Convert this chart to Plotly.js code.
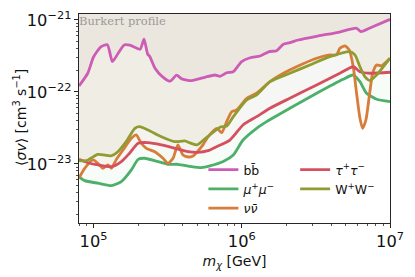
<!DOCTYPE html>
<html>
<head>
<meta charset="utf-8">
<script src="https://cdn.plot.ly/plotly-3.0.1.min.js"></script>
<style>html,body{margin:0;padding:0;background:#fff;}#chart{width:415px;height:277px;}</style>
</head>
<body>
<div id="chart"></div>
<script>
// ---- data ----
const bb_m = [7.98e4, 9.14e4, 1.0e5, 1.12e5, 1.24e5, 1.34e5, 1.47e5, 1.61e5, 1.76e5, 2.06e5, 2.19e5, 2.32e5, 2.40e5, 2.60e5, 2.91e5, 3.28e5, 3.64e5, 3.93e5, 4.59e5, 5.65e5, 6.59e5, 7.13e5, 7.91e5, 8.77e5, 9.98e5, 1.14e6, 1.33e6, 1.53e6, 1.72e6, 1.91e6, 2.11e6, 2.40e6, 3.28e6, 4.48e6, 5.95e6, 6.37e6, 7.52e6, 1.0e7];
const bb_sv = [1.21e-22, 1.82e-22, 3.06e-22, 4.22e-22, 4.54e-22, 2.64e-22, 3.48e-22, 4.50e-22, 4.46e-22, 3.92e-22, 5.40e-22, 3.34e-22, 3.09e-22, 2.13e-22, 1.63e-22, 1.41e-22, 1.71e-22, 1.52e-22, 1.44e-22, 1.60e-22, 1.72e-22, 1.65e-22, 1.85e-22, 1.91e-22, 2.64e-22, 2.99e-22, 3.16e-22, 3.63e-22, 3.75e-22, 4.60e-22, 4.84e-22, 5.27e-22, 6.00e-22, 6.75e-22, 7.67e-22, 6.88e-22, 7.93e-22, 1.02e-21];

const mu_m = [7.98e4, 8.72e4, 1.07e5, 1.32e5, 1.54e5, 1.80e5, 2.00e5, 2.21e5, 2.72e5, 3.18e5, 3.71e5, 4.57e5, 5.33e5, 6.10e5, 7.50e5, 8.77e5, 1.02e6, 1.26e6, 1.47e6, 2.11e6, 3.20e6, 4.83e6, 5.65e6, 6.27e6, 6.95e6, 8.12e6, 1.0e7];
const mu_sv = [6.60e-24, 5.86e-24, 5.40e-24, 5.00e-24, 5.68e-24, 8.26e-24, 1.16e-23, 1.20e-23, 1.08e-23, 9.90e-24, 9.90e-24, 9.17e-24, 8.89e-24, 9.38e-24, 1.08e-23, 1.33e-23, 2.15e-23, 3.13e-23, 3.87e-23, 5.94e-23, 9.59e-23, 1.50e-22, 1.72e-22, 1.39e-22, 9.59e-23, 7.92e-23, 7.33e-23];

const nu_m = [7.98e4, 8.72e4, 9.92e4, 1.07e5, 1.16e5, 1.25e5, 1.32e5, 1.42e5, 1.58e5, 1.80e5, 1.94e5, 2.10e5, 2.27e5, 2.59e5, 2.94e5, 3.18e5, 3.44e5, 3.71e5, 4.01e5, 4.34e5, 4.69e5, 5.07e5, 5.47e5, 5.87e5, 6.77e5, 7.32e5, 7.91e5, 8.55e5, 9.24e5, 1.08e6, 1.26e6, 1.55e6, 1.91e6, 2.34e6, 3.20e6, 3.93e6, 4.36e6, 4.59e6, 4.96e6, 5.31e6, 5.65e6, 5.95e6, 6.27e6, 6.53e6, 6.88e6, 7.24e6, 7.64e6, 8.12e6, 8.78e6, 9.49e6, 1.0e7];
const nu_sv = [6.39e-24, 8.71e-24, 1.14e-23, 1.02e-23, 8.71e-24, 9.69e-24, 8.71e-24, 1.14e-23, 1.56e-23, 2.27e-23, 2.53e-23, 1.94e-23, 1.65e-23, 1.48e-23, 1.20e-23, 1.02e-23, 1.20e-23, 1.84e-23, 1.33e-23, 1.25e-23, 1.29e-23, 1.52e-23, 1.84e-23, 2.33e-23, 3.13e-23, 2.72e-23, 3.87e-23, 5.32e-23, 5.62e-23, 8.18e-23, 9.59e-23, 1.39e-22, 1.82e-22, 2.24e-22, 2.94e-22, 3.27e-22, 3.27e-22, 4.05e-22, 4.36e-22, 3.83e-22, 2.24e-22, 9.59e-23, 4.31e-23, 3.13e-23, 4.08e-23, 8.61e-23, 1.82e-22, 2.37e-22, 2.30e-22, 2.64e-22, 2.94e-22];

const tau_m = [7.98e4, 9.18e4, 1.07e5, 1.32e5, 1.54e5, 1.75e5, 2.00e5, 2.33e5, 2.87e5, 3.53e5, 4.34e5, 5.07e5, 5.92e5, 6.77e5, 8.32e5, 1.02e6, 1.26e6, 1.55e6, 2.11e6, 3.20e6, 4.59e6, 5.65e6, 6.27e6, 7.32e6, 1.0e7];
const tau_sv = [1.16e-23, 1.04e-23, 9.69e-24, 9.17e-24, 1.08e-23, 1.41e-23, 1.94e-23, 1.98e-23, 1.84e-23, 1.65e-23, 1.48e-23, 1.45e-23, 1.53e-23, 1.74e-23, 2.15e-23, 3.48e-23, 4.54e-23, 5.94e-23, 8.18e-23, 1.25e-22, 1.82e-22, 2.24e-22, 1.91e-22, 1.82e-22, 1.88e-22];

const ww_m = [7.98e4, 8.94e4, 1.07e5, 1.32e5, 1.46e5, 1.66e5, 1.90e5, 2.05e5, 2.33e5, 2.87e5, 3.53e5, 4.12e5, 4.48e5, 4.99e5, 5.62e5, 6.10e5, 7.13e5, 7.91e5, 8.77e5, 1.08e6, 1.26e6, 1.55e6, 2.11e6, 2.88e6, 3.93e6, 5.37e6, 5.80e6, 6.27e6, 6.77e6, 7.32e6, 8.12e6, 9.00e6, 1.0e7];
const ww_sv = [1.11e-23, 1.11e-23, 1.36e-23, 1.30e-23, 1.48e-23, 2.04e-23, 3.13e-23, 3.30e-23, 2.97e-23, 2.39e-23, 2.04e-23, 2.09e-23, 1.96e-23, 1.84e-23, 2.22e-23, 2.53e-23, 3.23e-23, 3.37e-23, 4.54e-23, 7.74e-23, 9.09e-23, 1.39e-22, 1.82e-22, 2.37e-22, 3.09e-22, 3.63e-22, 3.27e-22, 2.24e-22, 1.63e-22, 1.44e-22, 1.72e-22, 2.24e-22, 2.94e-22];

const channelNames = ['bb\u0304', '<i>μ</i><sup>+</sup><i>μ</i><sup>−</sup>', '<i>νν\u0304</i>', '<i>τ</i><sup>+</sup><i>τ</i><sup>−</sup>', 'W<sup>+</sup>W<sup>−</sup>'];
const channelColors = ['#cc5cb6', '#4caf6a', '#d67d3a', '#d5505f', '#8e9c32'];
const fillColors = ['rgba(190,110,120,0.055)', 'rgba(76,175,106,0.045)', 'rgba(214,125,58,0.03)', 'rgba(213,80,95,0.03)', 'rgba(150,150,60,0.05)'];
const profileLabel = 'Burkert profile';
const xTitle = '<i>m</i><sub><i>χ</i></sub> [GeV]';
const yTitle = '⟨<i>σv</i>⟩ [cm<sup>3</sup> s<sup>−1</sup>]';

// ---- build traces ----
const series = [[bb_m, bb_sv], [mu_m, mu_sv], [nu_m, nu_sv], [tau_m, tau_sv], [ww_m, ww_sv]];
const legendOf = ['legend', 'legend', 'legend', 'legend2', 'legend2'];
const TOP = 1e-20;
const traces = [];
// fills (each channel shades the excluded region above its curve)
series.forEach(([m, sv], i) => {
  traces.push({
    x: m.concat([m[m.length - 1], m[0]]),
    y: sv.concat([TOP, TOP]),
    mode: 'lines', fill: 'toself', fillcolor: fillColors[i],
    line: {width: 0, color: 'rgba(0,0,0,0)'}, showlegend: false, hoverinfo: 'skip'
  });
});
series.forEach(([m, sv], i) => {
  traces.push({
    x: m, y: sv, mode: 'lines', name: channelNames[i], legend: legendOf[i],
    line: {color: channelColors[i], width: 2.8, shape: 'spline', smoothing: 0.6}
  });
});

const axisCommon = {
  type: 'log', showgrid: false, zeroline: false,
  showline: true, linecolor: '#262626', linewidth: 1, mirror: true,
  ticks: 'outside', ticklen: 4, tickwidth: 1, tickcolor: '#262626',
  dtick: 1, exponentformat: 'power',
  tickfont: {family: 'DejaVu Sans', size: 13, color: '#111'},
  minor: {ticks: 'outside', ticklen: 2, tickwidth: 0.8, tickcolor: '#262626', dtick: 'D1', showgrid: false}
};

const layout = {
  width: 415, height: 277,
  margin: {l: 79, r: 25, t: 14, b: 54},
  paper_bgcolor: '#fff', plot_bgcolor: '#fff',
  font: {family: 'DejaVu Sans', color: '#111'},
  xaxis: Object.assign({}, axisCommon, {
    range: [4.902, 7.0],
    title: {text: xTitle, font: {size: 14}, standoff: 6}
  }),
  yaxis: Object.assign({}, axisCommon, {
    range: [-23.82, -20.917]
  }),
  legend: {x: 0.40, y: 0.325, xanchor: 'left', yanchor: 'top', bgcolor: 'rgba(0,0,0,0)',
           font: {family: 'DejaVu Sans', size: 12.5}, tracegroupgap: 0},
  legend2: {x: 0.695, y: 0.325, xanchor: 'left', yanchor: 'top', bgcolor: 'rgba(0,0,0,0)',
           font: {family: 'DejaVu Sans', size: 12.5}, tracegroupgap: 0},
  annotations: [{
    text: profileLabel, xref: 'paper', yref: 'paper', x: 0, y: 1, xanchor: 'left', yanchor: 'top',
    showarrow: false, font: {family: 'DejaVu Serif', size: 11.5, color: '#9a9a9a'}, xshift: -2, yshift: 2
  }, {
    text: yTitle, xref: 'paper', yref: 'paper', x: -0.19, y: 0.507, xanchor: 'center', yanchor: 'middle',
    textangle: -90, showarrow: false, font: {family: 'DejaVu Sans', size: 14, color: '#111'}
  }],
  showlegend: true
};

Plotly.newPlot('chart', traces, layout, {staticPlot: true, displayModeBar: false});
</script>
</body>
</html>
